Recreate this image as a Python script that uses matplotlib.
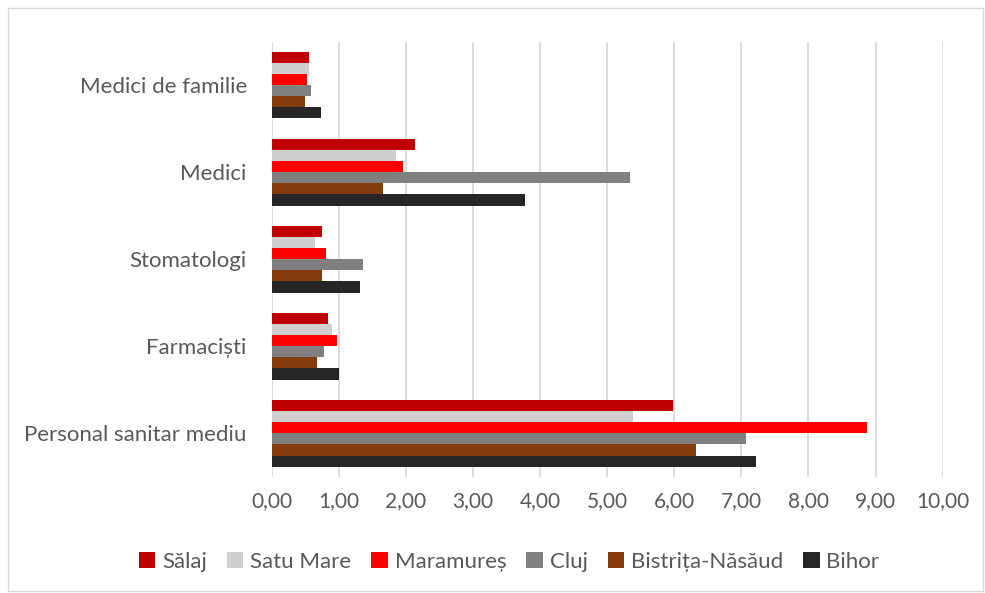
import numpy as np
import matplotlib.pyplot as plt
from matplotlib.patches import Rectangle

plt.rcParams['font.family'] = ['Lato', 'DejaVu Sans']

categories = ["Medici de familie", "Medici", "Stomatologi", "Farmaciști", "Personal sanitar mediu"]
series = ["Sălaj", "Satu Mare", "Maramureș", "Cluj", "Bistrița-Năsăud", "Bihor"]
colors = ["#C00000", "#D0CECE", "#FF0000", "#808080", "#843C0C", "#262626"]

salaj = [0.55, 2.14, 0.75, 0.84, 5.98]
satu_mare = [0.55, 1.85, 0.65, 0.89, 5.39]
maramures = [0.53, 1.96, 0.80, 0.97, 8.87]
cluj = [0.59, 5.34, 1.36, 0.77, 7.07]
bistrita = [0.50, 1.66, 0.75, 0.68, 6.33]
bihor = [0.73, 3.77, 1.32, 1.00, 7.22]
values = [salaj, satu_mare, maramures, cluj, bistrita, bihor]

xticks = np.arange(0, 11, 1)
xticklabels = ["0,00", "1,00", "2,00", "3,00", "4,00", "5,00", "6,00", "7,00", "8,00", "9,00", "10,00"]

fig = plt.figure(figsize=(9.85, 5.93), dpi=100)
ax = fig.add_axes([0.276, 0.196, 0.681, 0.734])

# six bars per category, Sălaj on top
y = np.arange(len(categories))
h = 0.128
for i, (name, vals, c) in enumerate(zip(series, values, colors)):
    ax.barh(y + (i - 2.5) * h, vals, height=h, color=c, label=name, zorder=3)

ax.set_ylim(len(categories) - 0.5, -0.5)
ax.set_xlim(0, 10)
ax.set_xticks(xticks)
ax.set_xticklabels(xticklabels)
ax.set_yticks(y)
ax.set_yticklabels(categories)
ax.tick_params(axis='both', length=0, colors="#595959")
ax.tick_params(axis='x', pad=10, labelsize=15)
ax.tick_params(axis='y', pad=18, labelsize=16)
ax.grid(axis='x', color="#D9D9D9", linewidth=1.3, zorder=0)
for s in ax.spines.values():
    s.set_visible(False)

ax.legend(loc='center', bbox_to_anchor=(0.5 * (137 + 881) / 985, 1 - 562 / 593),
          bbox_transform=fig.transFigure, ncol=6, frameon=False, fontsize=16,
          labelcolor="#595959", handlelength=0.75, handleheight=0.75,
          handletextpad=0.3, columnspacing=0.9)

# light frame around the whole chart
fig.patches.append(Rectangle((0.008, 0.003), 0.99, 0.984, transform=fig.transFigure,
                             fill=False, edgecolor="#D9D9D9", linewidth=1))

fig.savefig("out.png", dpi=100)
